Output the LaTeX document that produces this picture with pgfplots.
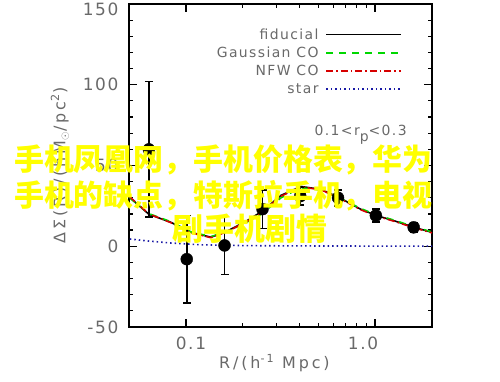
\documentclass[border=0pt]{standalone}
\usepackage{fontspec}
\setmainfont{DejaVu Sans}[LetterSpace=10]
\newfontfamily\labfont{DejaVu Sans}[LetterSpace=18]
\newfontfamily\cjk{Noto Sans CJK SC}
\usepackage{pgfplots}
\usepackage{pgfplotstable}
\pgfplotsset{compat=1.18}
\definecolor{txtgray}{RGB}{105,105,105}
\definecolor{wmyellow}{RGB}{255,255,0}
\definecolor{fidgreen}{RGB}{0,215,0}
\definecolor{nfwred}{RGB}{215,0,0}
\definecolor{starblue}{RGB}{25,25,165}

\pgfplotstableread{
x y e
0.0637 60 42
0.101 -8 27
0.160 0.5 18
0.254 23 12
0.402 31 5.5
0.637 30 5
1.01 19 4
1.60 11.7 3
}\obsdata

\pgfplotstableread{
x y
0.0505 30.2
0.0637 19.8
0.0833 14.8
0.1063 8.6
0.1356 5.6
0.1648 9.3
0.2077 15.4
0.2524 21.6
0.3181 31.5
0.4059 37
0.5179 35.2
0.6451 30.2
0.8433 22.8
1.012 19.1
1.291 15.4
1.608 11.7
2.0 8.6
}\fiducial

\pgfplotstableread{
x y
0.0505 29.8
0.0637 20.2
0.0833 15.2
0.1063 8.9
0.1356 6.0
0.1648 9.0
0.2077 14.6
0.2524 20.0
0.3181 30.0
0.4059 36.2
0.5179 34.8
0.6451 30.0
0.8433 23.3
1.012 19.5
1.291 15.8
1.608 12.0
2.0 8.9
}\gausco

\pgfplotstableread{
x y
0.0505 30.5
0.0637 20.0
0.0833 14.6
0.1063 8.3
0.1356 5.3
0.1648 9.0
0.2077 15.0
0.2524 21.0
0.3181 31.0
0.4059 36.7
0.5179 35.0
0.6451 29.8
0.8433 22.5
1.012 18.8
1.291 15.1
1.608 11.4
2.0 8.3
}\nfwco

\pgfplotstableread{
x y
0.0505 4.5
0.0637 3.2
0.0833 2.0
0.12 0.9
0.2 0.4
0.4 0.2
1.0 0.1
2.0 0.05
}\stardata

\begin{document}
\begin{tikzpicture}
\path[use as bounding box] (0,0) rectangle (500bp,382bp);
\begin{axis}[
  at={(129bp,55bp)}, anchor=south west,
  scale only axis, width=303bp, height=323bp,
  xmode=log, xmin=0.05, xmax=2, ymin=-50, ymax=150,
  xtick={0.1,1}, xticklabels={\kern10bp 0.1, 1.0\kern24bp},
  ytick={-50,0,50,100,150}, yticklabels={-50,0,50,100,\raisebox{-12bp}[0pt][0pt]{150}},
  minor ytick={-40,-30,...,140},
  tick align=inside,
  major tick length=8bp, minor tick length=4bp,
  every tick/.style={black, line width=1.2bp},
  axis line style={line width=2bp},
  ticklabel style={font=\fontsize{17}{17}\selectfont, text=txtgray},
  yticklabel style={xshift=-7bp},
  xticklabel style={yshift=-6bp},
  xlabel={R/(h\textsuperscript{-1} Mpc)},
  ylabel={ΔΣ(R)/(h\,M\textsubscript{$\odot$}/pc\textsuperscript{2})},
  xlabel style={font=\labfont\fontsize{16}{16}\selectfont, text=txtgray, at={(axis description cs:0.48,-0.111)}, anchor=center},
  ylabel style={font=\labfont\fontsize{16}{16}\selectfont, text=txtgray, at={(axis description cs:-0.228,0.5)}, anchor=center},
  legend plot pos=right,
  legend cell align=right,
  legend image code/.code={\draw[#1] (0bp,0bp) -- (75bp,0bp);},
  legend style={at={(axis description cs:0.902,0.928)}, anchor=north east, draw=none, fill=none,
    font=\fontsize{14}{14}\selectfont, inner sep=0pt, row sep=4.3bp, column sep=6bp,
    nodes={inner sep=1bp}},
]
\addplot[black, line width=1.6bp] table[x=x,y=y] {\fiducial};
\addlegendentry{\color{txtgray}fiducial}
\addplot[fidgreen, line width=1.6bp, dash pattern=on 7bp off 6bp] table[x=x,y=y] {\gausco};
\addlegendentry{\color{txtgray}Gaussian CO}
\addplot[nfwred, line width=1.6bp, dash pattern=on 7bp off 3bp on 1.5bp off 3bp] table[x=x,y=y] {\nfwco};
\addlegendentry{\color{txtgray}NFW CO}
\addplot[starblue, line width=1.6bp, dash pattern=on 1.5bp off 3bp] table[x=x,y=y] {\stardata};
\addlegendentry{\color{txtgray}star}
\addplot[forget plot, only marks, black, mark=*, mark size=6bp,
  error bars/.cd, y dir=both, y explicit,
  error bar style={line width=1.6bp, black},
  error mark options={rotate=90, mark size=4bp, line width=1.6bp, black}]
  table[x=x,y=y,y error=e] {\obsdata};
\node[anchor=base east, font=\fontsize{14}{14}\selectfont, text=txtgray, inner sep=0pt]
  at (rel axis cs:0.917,0.594) {0.1<r\raisebox{-6bp}{p}<0.3};
\end{axis}
\node[anchor=west, text=wmyellow, font=\cjk\bfseries\fontsize{30}{30}\selectfont, inner sep=0pt] at (14bp,222bp) {手机凤凰网，手机价格表，华为};
\node[anchor=west, text=wmyellow, font=\cjk\bfseries\fontsize{30}{30}\selectfont, inner sep=0pt] at (14bp,186bp) {手机的缺点，特斯拉手机，电视};
\node[anchor=center, text=wmyellow, font=\cjk\bfseries\fontsize{31}{31}\selectfont, inner sep=0pt] at (250bp,153bp) {剧手机剧情};
\end{tikzpicture}
\end{document}
